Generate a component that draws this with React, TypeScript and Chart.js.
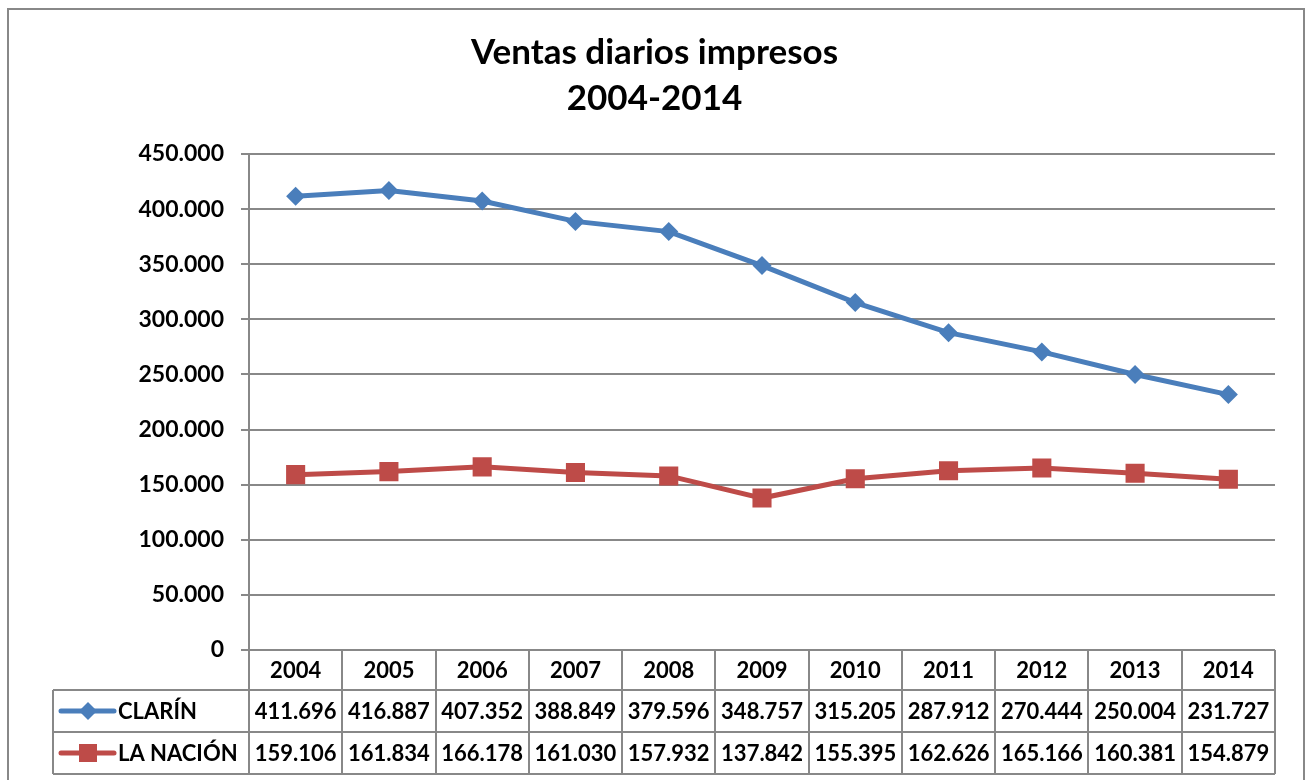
import React, { useEffect, useRef } from "react";
import { Chart, registerables } from "chart.js";

Chart.register(...registerables);

const years = ["2004", "2005", "2006", "2007", "2008", "2009", "2010", "2011", "2012", "2013", "2014"];
const clarin = [411696, 416887, 407352, 388849, 379596, 348757, 315205, 287912, 270444, 250004, 231727];
const laNacion = [159106, 161834, 166178, 161030, 157932, 137842, 155395, 162626, 165166, 160381, 154879];
const seriesNames = ["CLARÍN", "LA NACIÓN"];
const titleLines = ["Ventas diarios impresos", "2004-2014"];
const yMin = 0;
const yMax = 450000;
const yStep = 50000;

const BLUE = "#4A7EBB";
const RED = "#BE4B48";
const GRID = "#888888";
const FONT = "Lato";

const fmt = (n: number) => String(Math.round(n)).replace(/\B(?=(\d{3})+(?!\d))/g, ".");

const tablePlugin = {
  id: "dataTable",
  beforeDraw(chart: any) {
    const ctx = chart.ctx;
    ctx.save();
    ctx.fillStyle = "#ffffff";
    ctx.fillRect(0, 0, chart.width, chart.height);
    ctx.restore();
  },
  afterDraw(chart: any) {
    const ctx = chart.ctx;
    const area = chart.chartArea;
    const xs = chart.scales.x;
    const n = years.length;
    const colW = (area.right - area.left) / n;
    const rows = [area.bottom, area.bottom + 40, area.bottom + 82, area.bottom + 124];
    const labelLeft = 53;

    ctx.save();
    // outer frame
    ctx.strokeStyle = GRID;
    ctx.lineWidth = 2;
    ctx.beginPath();
    ctx.moveTo(8, chart.height + 5);
    ctx.lineTo(8, 9);
    ctx.lineTo(1304, 9);
    ctx.lineTo(1304, chart.height + 5);
    ctx.stroke();

    // table grid
    ctx.strokeStyle = GRID;
    ctx.lineWidth = 2;
    ctx.beginPath();
    for (let i = 0; i <= n; i++) {
      const x = Math.round(area.left + i * colW);
      ctx.moveTo(x, rows[0]);
      ctx.lineTo(x, rows[3]);
    }
    for (let r = 1; r <= 3; r++) {
      ctx.moveTo(labelLeft, rows[r]);
      ctx.lineTo(area.right, rows[r]);
    }
    ctx.moveTo(labelLeft, rows[1]);
    ctx.lineTo(labelLeft, rows[3]);
    ctx.stroke();

    // texts
    ctx.fillStyle = "#000000";
    ctx.font = `bold 22px ${FONT}`;
    ctx.textAlign = "center";
    ctx.textBaseline = "middle";
    const data = [clarin, laNacion];
    for (let i = 0; i < n; i++) {
      const cx = xs.getPixelForValue(i);
      ctx.fillText(years[i], cx, (rows[0] + rows[1]) / 2 + 1);
      for (let s = 0; s < 2; s++) {
        ctx.fillText(fmt(data[s][i]), cx, (rows[s + 1] + rows[s + 2]) / 2 + 1);
      }
    }

    // legend keys
    const colors = [BLUE, RED];
    for (let s = 0; s < 2; s++) {
      const cy = (rows[s + 1] + rows[s + 2]) / 2;
      ctx.strokeStyle = colors[s];
      ctx.lineWidth = 5;
      ctx.lineCap = "round";
      ctx.beginPath();
      ctx.moveTo(61, cy);
      ctx.lineTo(114, cy);
      ctx.stroke();
      ctx.fillStyle = colors[s];
      ctx.beginPath();
      if (s === 0) {
        ctx.moveTo(88, cy - 9);
        ctx.lineTo(97, cy);
        ctx.lineTo(88, cy + 9);
        ctx.lineTo(79, cy);
      } else {
        ctx.rect(79, cy - 9, 18, 18);
      }
      ctx.closePath();
      ctx.fill();
      ctx.fillStyle = "#000000";
      ctx.textAlign = "left";
      ctx.fillText(seriesNames[s], 118, cy + 1);
    }
    ctx.restore();
  },
};

export default function App() {
  const ref = useRef<HTMLCanvasElement | null>(null);
  useEffect(() => {
    if (!ref.current) return;
    const chart = new Chart(ref.current, {
      type: "line",
      data: {
        labels: years,
        datasets: [
          {
            label: seriesNames[0],
            data: clarin,
            borderColor: BLUE,
            backgroundColor: BLUE,
            borderWidth: 5,
            pointStyle: "rectRot",
            pointRadius: 9.5,
            pointBorderWidth: 0,
            tension: 0,
          },
          {
            label: seriesNames[1],
            data: laNacion,
            borderColor: RED,
            backgroundColor: RED,
            borderWidth: 5,
            pointStyle: "rect",
            pointRadius: 13.5,
            pointBorderWidth: 0,
            tension: 0,
          },
        ],
      },
      options: {
        responsive: false,
        animation: false,
        layout: { padding: { left: 34, right: 34, top: 0, bottom: 130 } },
        plugins: {
          legend: { display: false },
          tooltip: { enabled: false },
          title: {
            display: true,
            text: titleLines,
            color: "#000000",
            font: { family: FONT, size: 35, weight: "bold", lineHeight: 1.3 },
            padding: { top: 30, bottom: 33 },
          },
        },
        scales: {
          x: {
            type: "category",
            display: false,
            offset: true,
          },
          y: {
            min: yMin,
            max: yMax,
            afterFit: (scale: any) => {
              scale.width = 249 - 34;
            },
            ticks: {
              stepSize: yStep,
              color: "#000000",
              font: { family: FONT, size: 23, weight: "bold" },
              padding: 17,
              callback: (v: any) => fmt(Number(v)),
            },
            grid: {
              color: GRID,
              lineWidth: 2,
              tickLength: 8,
            },
            border: { display: true, color: GRID, width: 2 },
          },
        },
      },
      plugins: [tablePlugin],
    });
    return () => chart.destroy();
  }, []);
  return (
    <div style={{ position: "absolute", left: 0, top: 0, width: 1309, height: 780, overflow: "hidden" }}>
      <canvas ref={ref} width={1309} height={780} style={{ display: "block" }} />
    </div>
  );
}
